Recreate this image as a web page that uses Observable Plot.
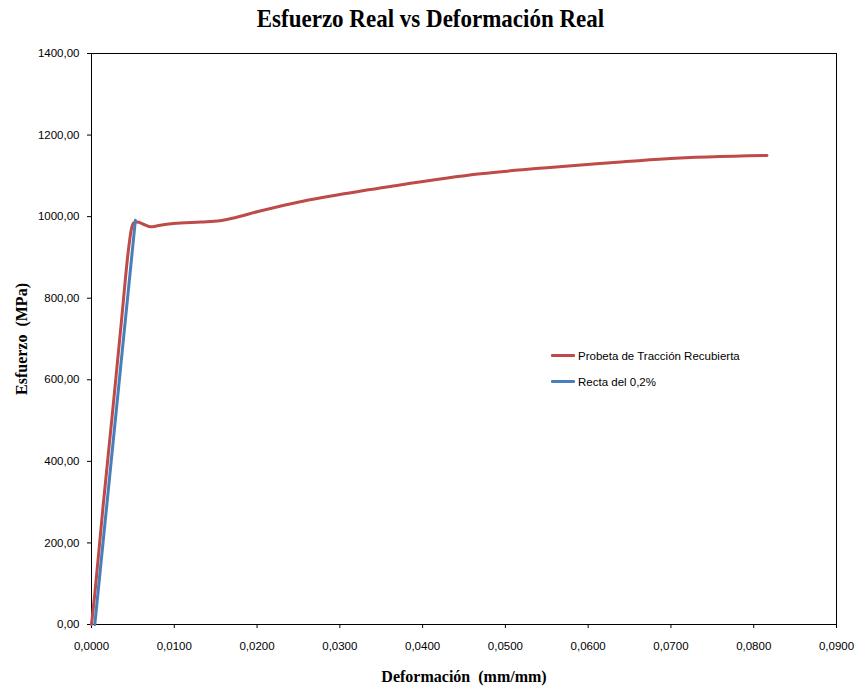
<!DOCTYPE html>
<html>
<head>
<meta charset="utf-8">
<script src="https://cdn.jsdelivr.net/npm/d3@7"></script>
<script src="https://cdn.jsdelivr.net/npm/@observablehq/plot@0.6"></script>
<style>
  html, body { margin: 0; padding: 0; background: #fff; }
  #wrap { position: relative; width: 857px; height: 687px; overflow: hidden; }
  #title {
    position: absolute; top: 5px; left: 2px; width: 857px; text-align: center;
    font-family: "Liberation Serif", "Times New Roman", serif; font-weight: bold; font-size: 23px;
    line-height: 26px; transform: scaleY(1.12); transform-origin: top center; color: #000;
  }
  #chart { position: absolute; top: 40px; left: 0; }
  .legend { position: absolute; font-family: "Liberation Sans", Arial, sans-serif; font-size: 11.5px; color: #000; white-space: nowrap; }
  .legend .sw { position: absolute; left: 0; width: 24px; height: 3px; border-radius: 1px; }
  .legend .lab { position: absolute; left: 27px; line-height: 14px; }
</style>
</head>
<body>
<div id="wrap">
  <div id="title">Esfuerzo Real vs Deformación Real</div>
  <div id="chart"></div>
</div>
<script>
// Probeta de Tracción Recubierta: true strain (mm/mm) and true stress (MPa)
const probetaStrain = [0, 0.0004, 0.0014, 0.0025, 0.0036, 0.0045, 0.0048, 0.0051, 0.0055,
  0.0062, 0.0071, 0.0083, 0.0099, 0.0132, 0.0155, 0.0170, 0.0200, 0.0244, 0.0305, 0.0361,
  0.0470, 0.0550, 0.0627, 0.0695, 0.0816];
const probetaStress = [0, 75, 290, 512, 740, 925, 968, 985, 987,
  982, 975, 979, 983, 987, 990, 996, 1012, 1033, 1056, 1074,
  1105, 1120, 1132, 1142, 1150];

// Recta del 0,2% (offset line)
const rectaStrain = [0.0004, 0.0053];
const rectaStress = [0, 991];

// Axis ticks
const xTicks = [0, 0.01, 0.02, 0.03, 0.04, 0.05, 0.06, 0.07, 0.08, 0.09];
const yTicks = [0, 200, 400, 600, 800, 1000, 1200, 1400];

const seriesNames = ["Probeta de Tracción Recubierta", "Recta del 0,2%"];
const seriesColors = ["#BE4B48", "#4A7EBB"];

const xTitle = "Deformación  (mm/mm)";
const yTitle = "Esfuerzo  (MPa)";

const esLocale = d3.formatLocale({decimal: ",", thousands: ".", grouping: [3], currency: ["", " €"]});
const fmtX = esLocale.format(".4f");
const fmtY = esLocale.format(".2f");

const probeta = probetaStrain.map((e, i) => ({e, s: probetaStress[i]}));
const recta = rectaStrain.map((e, i) => ({e, s: rectaStress[i]}));

const serif = "'Liberation Serif', 'Times New Roman', serif";

const chart = Plot.plot({
  width: 857,
  height: 647,
  marginTop: 13,
  marginLeft: 91,
  marginRight: 21,
  marginBottom: 63,
  style: {background: "white", color: "black", fontFamily: "'Liberation Sans', Arial, sans-serif", fontSize: "11.5px"},
  x: {domain: [0, 0.09], ticks: xTicks, tickFormat: fmtX, tickSize: 4, tickPadding: 13, label: null},
  y: {domain: [0, 1400], ticks: yTicks, tickFormat: fmtY, tickSize: 4, tickPadding: 8, label: null},
  marks: [
    Plot.frame({stroke: "black", strokeWidth: 1}),
    Plot.line(probeta, {x: "e", y: "s", stroke: seriesColors[0], strokeWidth: 3, curve: "monotone-x"}),
    Plot.line(recta, {x: "e", y: "s", stroke: seriesColors[1], strokeWidth: 3}),
    Plot.text([xTitle], {frameAnchor: "bottom", dy: 57, fontFamily: serif, fontWeight: "bold", fontSize: 16, fill: "black"}),
    Plot.text([yTitle], {frameAnchor: "left", dx: -70, rotate: -90, textAnchor: "middle", lineAnchor: "middle", fontFamily: serif, fontWeight: "bold", fontSize: 16, fill: "black"})
  ]
});
document.getElementById("chart").appendChild(chart);

// Legend with line swatches, placed inside the plot area
const wrap = document.getElementById("wrap");
const legendTops = [354, 380];
seriesNames.forEach((name, i) => {
  const item = document.createElement("div");
  item.className = "legend";
  item.style.left = "551px";
  item.style.top = legendTops[i] + "px";
  const sw = document.createElement("div");
  sw.className = "sw";
  sw.style.background = seriesColors[i];
  sw.style.top = "0px";
  const lab = document.createElement("div");
  lab.className = "lab";
  lab.style.top = "-5px";
  lab.textContent = name;
  item.appendChild(sw);
  item.appendChild(lab);
  wrap.appendChild(item);
});
</script>
</body>
</html>
